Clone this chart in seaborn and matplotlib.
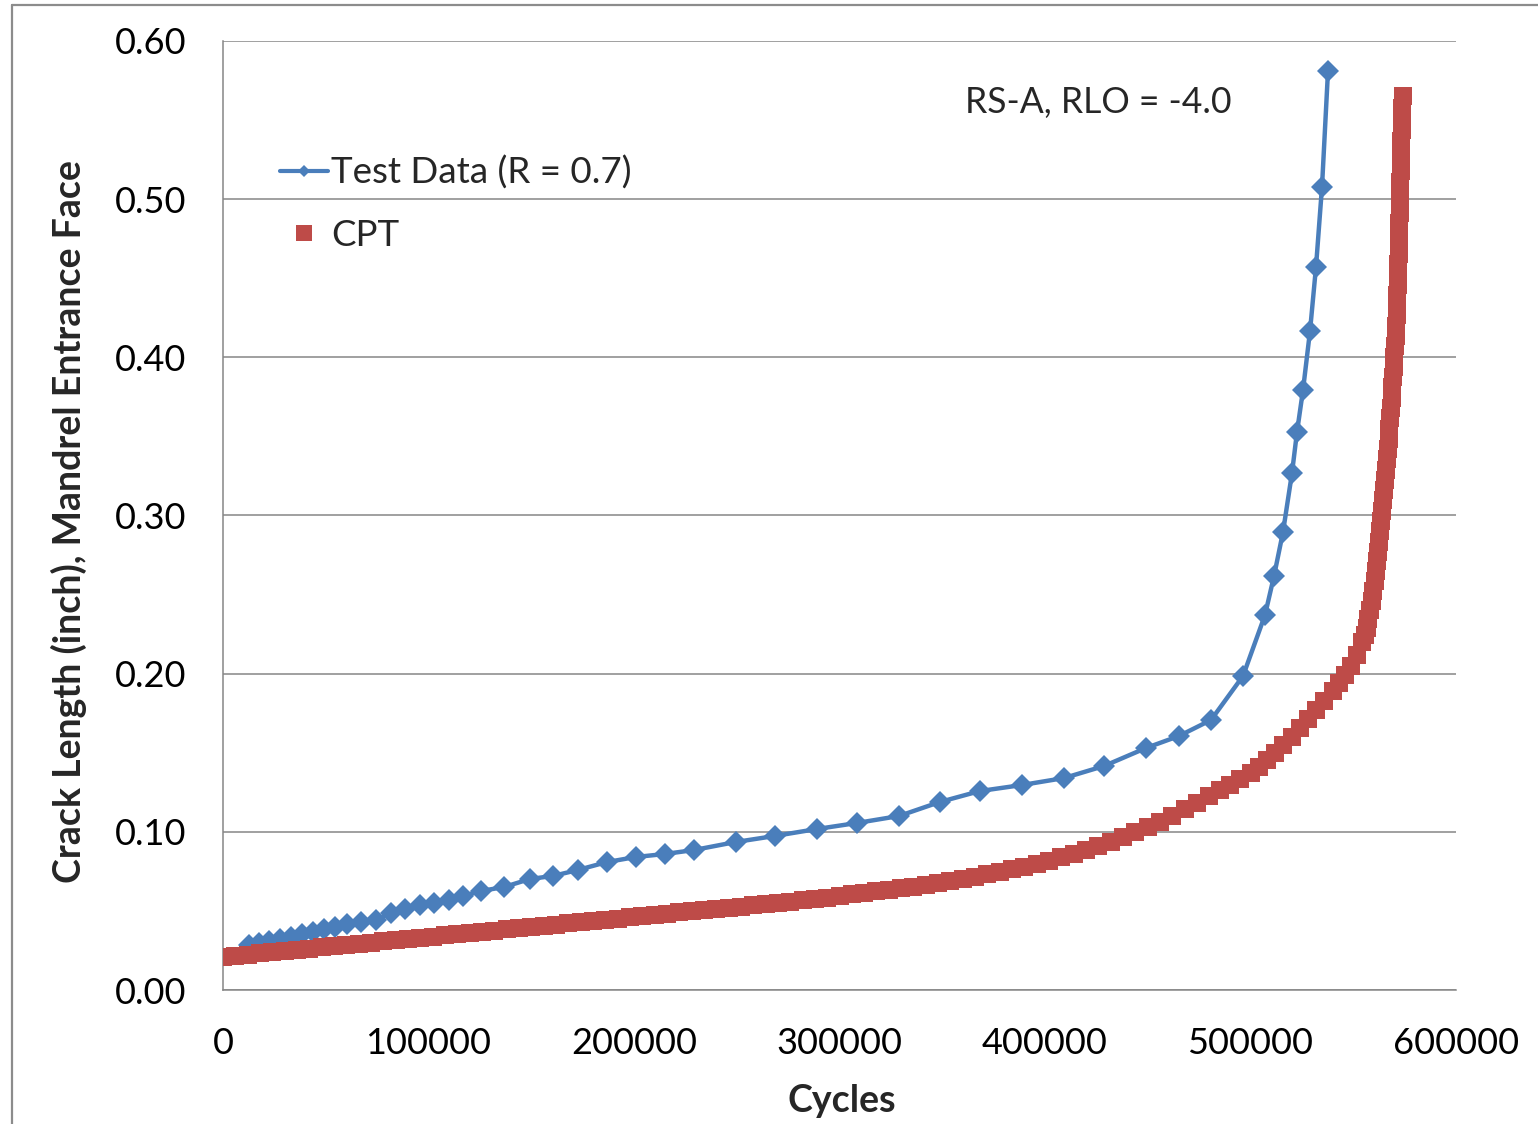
import matplotlib
matplotlib.use("Agg")
import matplotlib.pyplot as plt
from matplotlib.lines import Line2D
from matplotlib.ticker import FormatStrFormatter, MultipleLocator
import seaborn as sns

# Measured crack growth, specimen RS-A (R = 0.7)
test_cycles = [12650, 17520, 22380, 27740, 33090, 38440, 43800, 49150, 54500, 60340,
               67150, 74450, 81750, 88560, 95860, 102680, 109980, 116790, 125550, 136740,
               149390, 160580, 172750, 186860, 200970, 215080, 229200, 249630, 268610, 289050,
               308510, 328950, 348900, 368370, 388810, 409240, 428710, 449150, 465210, 480780,
               496350, 507060, 511440, 515820, 520200, 522630, 525550, 528960, 531870, 534790,
               537710]
test_crack = [0.0285, 0.0297, 0.0310, 0.0322, 0.0335, 0.0354, 0.0367, 0.0386, 0.0398, 0.0417,
              0.0430, 0.0443, 0.0487, 0.0512, 0.0537, 0.0550, 0.0569, 0.0594, 0.0626, 0.0651,
              0.0702, 0.0721, 0.0759, 0.0809, 0.0841, 0.0860, 0.0885, 0.0936, 0.0974, 0.1018,
              0.1056, 0.1100, 0.1189, 0.1258, 0.1296, 0.1340, 0.1416, 0.1530, 0.1606, 0.1707,
              0.1985, 0.2371, 0.2617, 0.2896, 0.3269, 0.3528, 0.3793, 0.4166, 0.4571, 0.5077,
              0.5810]

# CPT crack growth prediction
cpt_cycles = [0, 6000, 12000, 18000, 24000, 30000, 36000, 42000, 48000, 54000,
              60000, 66000, 72000, 78000, 84000, 90000, 96000, 102000, 108000, 114000,
              120000, 126000, 132000, 138000, 144000, 150000, 156000, 162000, 168000, 174000,
              180000, 186000, 192000, 198000, 204000, 210000, 216000, 222000, 228000, 234000,
              240000, 246000, 252000, 258000, 264000, 270000, 276000, 282000, 288000, 294000,
              300000, 306000, 312000, 318000, 324000, 330000, 336000, 342000, 348000, 354000,
              360000, 366000, 372000, 378000, 384000, 390000, 396000, 402000, 408000, 414000,
              420000, 426000, 432000, 438000, 444000, 450000, 456000, 462000, 468000, 474000,
              480000, 485000, 490000, 495000, 500000, 504000, 508000, 512000, 516000, 520000,
              524000, 528000, 532000, 536000, 540000, 543000, 546000, 549000, 552000, 554500,
              555500, 556500, 557400, 558300, 559100, 559800, 560400, 561000, 561500, 562000,
              562500, 563000, 563500, 564000, 564500, 565000, 565450, 565900, 566350, 566800,
              567200, 567600, 567950, 568300, 568650, 569000, 569300, 569600, 569950, 570300,
              570600, 570900, 571100, 571300, 571500, 571700, 571850, 572000, 572150, 572300,
              572400, 572500, 572600, 572700, 572800, 572950, 573050, 573200, 573300, 573450,
              573550, 573700, 573850, 574000]
cpt_crack = [0.0209, 0.0217, 0.0224, 0.0232, 0.0239, 0.0247, 0.0254, 0.0262, 0.0269, 0.0277,
             0.0284, 0.0292, 0.0300, 0.0307, 0.0315, 0.0322, 0.0330, 0.0338, 0.0345, 0.0353,
             0.0360, 0.0368, 0.0376, 0.0383, 0.0391, 0.0398, 0.0406, 0.0414, 0.0421, 0.0429,
             0.0436, 0.0444, 0.0452, 0.0459, 0.0467, 0.0474, 0.0482, 0.0490, 0.0497, 0.0505,
             0.0512, 0.0520, 0.0527, 0.0535, 0.0543, 0.0550, 0.0558, 0.0566, 0.0575, 0.0584,
             0.0594, 0.0604, 0.0613, 0.0623, 0.0632, 0.0642, 0.0652, 0.0662, 0.0676, 0.0689,
             0.0702, 0.0717, 0.0732, 0.0747, 0.0763, 0.0780, 0.0797, 0.0816, 0.0839, 0.0862,
             0.0885, 0.0912, 0.0938, 0.0965, 0.0996, 0.1030, 0.1064, 0.1101, 0.1143, 0.1185,
             0.1227, 0.1263, 0.1299, 0.1336, 0.1372, 0.1410, 0.1455, 0.1500, 0.1550, 0.1600,
             0.1655, 0.1712, 0.1770, 0.1828, 0.1890, 0.1940, 0.1990, 0.2050, 0.2120, 0.2200,
             0.2245, 0.2290, 0.2345, 0.2400, 0.2460, 0.2520, 0.2585, 0.2650, 0.2710, 0.2770,
             0.2835, 0.2900, 0.2965, 0.3030, 0.3095, 0.3160, 0.3225, 0.3290, 0.3355, 0.3420,
             0.3485, 0.3550, 0.3615, 0.3680, 0.3745, 0.3810, 0.3875, 0.3940, 0.4005, 0.4070,
             0.4135, 0.4200, 0.4265, 0.4330, 0.4395, 0.4460, 0.4525, 0.4590, 0.4655, 0.4720,
             0.4785, 0.4850, 0.4915, 0.4980, 0.5045, 0.5110, 0.5175, 0.5240, 0.5305, 0.5370,
             0.5435, 0.5500, 0.5575, 0.5650]

series_labels = ["Test Data (R = 0.7)", "CPT"]
case_label = "RS-A, RLO = -4.0"
x_title = "Cycles"
y_title = "Crack Length (inch), Mandrel Entrance Face"

BLUE = "#4A7EBB"
RED = "#BE4B48"
GRAY = "#868686"

sns.set_theme(style="white")
plt.rcParams["font.family"] = ["Lato", "DejaVu Sans"]

W, H = 1538, 1124
fig = plt.figure(figsize=(W / 100, H / 100), dpi=100)
ax = fig.add_axes([223 / W, 1 - 990 / H, 1233 / W, 949 / H])

sns.lineplot(x=test_cycles, y=test_crack, ax=ax, color=BLUE, linewidth=3.2,
             marker="D", markersize=11.5, markeredgewidth=0, sort=False,
             estimator=None, legend=False, zorder=3)
sns.scatterplot(x=cpt_cycles, y=cpt_crack, ax=ax, color=RED, marker="s",
                s=170, linewidth=0, legend=False, zorder=4)

ax.set_xlim(0, 600000)
ax.set_ylim(0, 0.6)
ax.xaxis.set_major_locator(MultipleLocator(100000))
ax.yaxis.set_major_locator(MultipleLocator(0.1))
ax.yaxis.set_major_formatter(FormatStrFormatter("%.2f"))
ax.xaxis.set_major_formatter(FormatStrFormatter("%d"))

ax.grid(axis="y", color=GRAY, linewidth=1.1)
ax.grid(axis="x", visible=False)
ax.set_axisbelow(True)
for side in ["top", "right"]:
    ax.spines[side].set_visible(False)
for side in ["left", "bottom"]:
    ax.spines[side].set_color(GRAY)
    ax.spines[side].set_linewidth(1.1)

ax.tick_params(axis="both", which="major", labelsize=26, colors=GRAY,
               labelcolor="black", width=1.1, length=9.4, direction="out")
ax.tick_params(axis="y", pad=17)
ax.tick_params(axis="x", pad=17)

ax.set_xlabel(x_title, fontsize=27, fontweight="bold")
ax.set_ylabel(y_title, fontsize=27, fontweight="bold")
ax.xaxis.set_label_coords(0.502, -0.099)
ax.yaxis.set_label_coords(-0.110, 0.494)

ax.text(361100, 0.5614, case_label, fontsize=25.6, ha="left", va="center")

handles = [
    Line2D([], [], color=BLUE, linewidth=3.0, marker="D", markersize=6,
           markeredgewidth=0),
    Line2D([], [], color=RED, linewidth=0, marker="s", markersize=11.5,
           markeredgewidth=0),
]
ax.legend(handles, series_labels, loc="upper left", bbox_to_anchor=(0.046, 0.879),
          frameon=False, fontsize=26.5, handlelength=1.3, handletextpad=0.1,
          labelspacing=0.8, borderpad=0, borderaxespad=0)

# slide frame around the chart
fig.add_artist(Line2D([12 / W, 12 / W], [0, 1 - 5 / H], color="#8C8C8C",
                      linewidth=1.6, transform=fig.transFigure))
fig.add_artist(Line2D([12 / W, 1], [1 - 5 / H, 1 - 5 / H], color="#8C8C8C",
                      linewidth=1.6, transform=fig.transFigure))

fig.savefig("out.png", dpi=100, facecolor="white")
